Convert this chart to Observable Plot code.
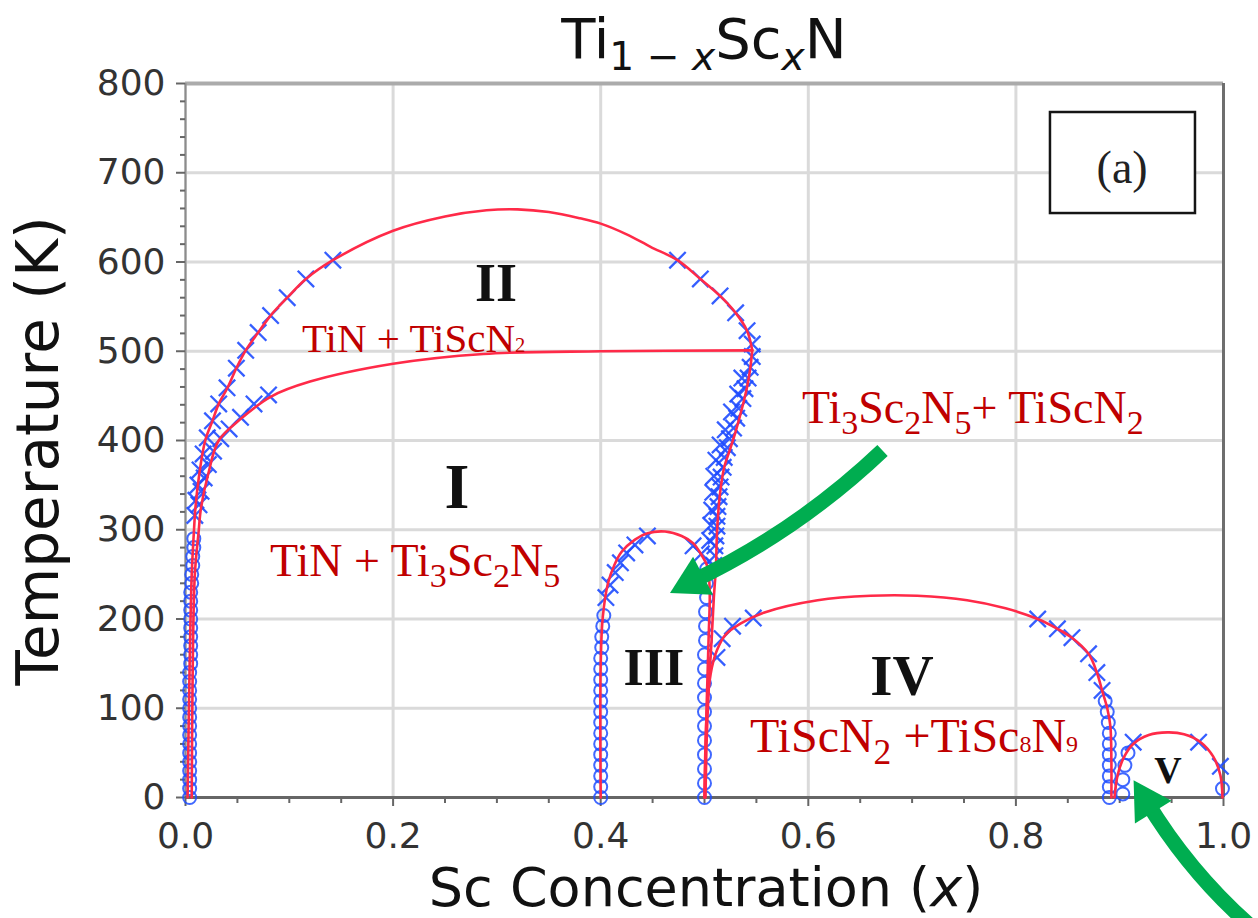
<!DOCTYPE html>
<html>
<head>
<meta charset="utf-8">
<script src="https://cdn.jsdelivr.net/npm/d3@7"></script>
<script src="https://cdn.jsdelivr.net/npm/@observablehq/plot@0.6"></script>
<style>
  html, body { margin: 0; padding: 0; background: #fff; }
  #chart svg { display: block; }
</style>
</head>
<body>
<div id="chart"></div>
<script>
// ---------- axis ticks ----------
const xTicks = [0, 0.2, 0.4, 0.6, 0.8, 1.0];
const xMinor = [0.05, 0.1, 0.15, 0.25, 0.3, 0.35, 0.45, 0.5, 0.55, 0.65, 0.7, 0.75, 0.85, 0.9, 0.95];
const yTicks = [0, 100, 200, 300, 400, 500, 600, 700, 800];
const yMinor = [20, 40, 60, 80, 120, 140, 160, 180, 220, 240, 260, 280, 320, 340, 360, 380,
                420, 440, 460, 480, 520, 540, 560, 580, 620, 640, 660, 680, 720, 740, 760, 780];

// ---------- phase boundaries [x, T] ----------
const boundaryIIouter = [[0.002,0],[0.004,150],[0.006,250],[0.008,296],[0.0096,325],[0.013,360],[0.019,400],
  [0.026,422],[0.032,441],[0.040,458],[0.049,481],[0.058,501],[0.070,521],[0.082,540],[0.098,560],[0.116,581],
  [0.142,602],[0.200,635],[0.250,651],[0.290,658],[0.320,659],[0.350,656],[0.380,649],[0.400,643],[0.425,631],
  [0.448,617],[0.474,602],[0.496,581],[0.515,562],[0.530,543],[0.541,523],[0.546,501]];
const boundaryIright = [[0.546,501],[0.544,480],[0.541,460],[0.537,440],[0.530,410],[0.524,388],[0.519,370],
  [0.516,350],[0.514,330],[0.512,296],[0.511,258],[0.509,224],[0.507,180],[0.504,120],[0.502,60],[0.501,0]];
const boundaryIinner = [[0.006,0],[0.007,150],[0.009,250],[0.0125,296],[0.015,325],[0.022,363],[0.032,400],
  [0.053,424],[0.082,449],[0.120,466],[0.200,486],[0.287,497],[0.400,500],[0.546,501]];
const domeIII = [[0.400,0],[0.400,150],[0.402,202],[0.407,240],[0.413,260],[0.420,275],[0.433,289],[0.445,296],
  [0.462,298],[0.478,293],[0.489,285],[0.497,272],[0.503,258],[0.505,230],[0.504,180],[0.502,100],[0.500,0]];
const domeIV = [[0.500,0],[0.501,60],[0.503,110],[0.507,145],[0.512,165],[0.520,182],[0.535,195],[0.557,207],
  [0.609,221],[0.660,226],[0.705,226],[0.753,221],[0.790,212],[0.821,200],[0.840,189],[0.854,179],[0.870,161],
  [0.878,140],[0.883,120],[0.888,100],[0.891,80],[0.892,40],[0.892,0]];
const domeV = [[0.895,0],[0.898,25],[0.904,45],[0.913,60],[0.928,70],[0.946,73],[0.962,71],[0.978,62],
  [0.990,46],[0.997,25],[0.999,0]];

// ---------- simulation points [x, T] ----------
const crossPoints = [
  [0.142,602],[0.116,581],[0.098,560],[0.082,540],[0.070,521],[0.058,501],[0.049,481],[0.040,459],[0.032,441],
  [0.026,422],[0.021,403],[0.017,385],[0.014,367],[0.012,350],[0.010,333],[0.009,316],
  [0.080,451],[0.066,441],[0.053,426],[0.042,413],[0.034,402],[0.027,388],[0.022,373],[0.018,358],[0.015,343],[0.013,328],
  [0.474,602],[0.496,581],[0.515,562],[0.530,543],[0.541,523],[0.546,508],[0.546,494],
  [0.544,482],[0.542,470],[0.539,458],[0.537,447],[0.533,436],[0.531,425],[0.528,414],[0.524,402],[0.522,392],
  [0.519,381],[0.518,370],[0.516,359],[0.515,348],[0.514,337],[0.513,326],[0.512,315],[0.512,304],[0.511,293],
  [0.510,282],[0.510,271],[0.509,260],
  [0.536,470],[0.532,452],[0.526,432],[0.520,412],[0.515,395],[0.511,378],[0.509,360],[0.508,342],[0.507,322],
  [0.506,305],[0.505,288],
  [0.405,224],[0.409,238],[0.414,252],[0.419,263],[0.425,274],[0.433,283],[0.445,293],[0.489,282],[0.497,273],
  [0.512,157],[0.517,178],[0.527,192],[0.547,201],
  [0.821,200],[0.840,189],[0.854,179],[0.870,161],[0.878,140],[0.883,120],
  [0.913,62],[0.976,62],[0.997,35]
];
const circlePoints = [
  [0.004,0],[0.004,10],[0.004,20],[0.004,30],[0.004,40],[0.004,50],[0.004,60],[0.004,70],[0.004,80],[0.004,90],
  [0.004,100],[0.004,110],[0.004,120],[0.004,130],[0.004,140],[0.005,150],[0.005,160],[0.005,170],[0.005,180],
  [0.005,190],[0.005,200],[0.005,210],[0.005,220],[0.005,230],[0.006,240],[0.006,250],[0.007,260],[0.007,270],
  [0.008,280],[0.008,290],
  [0.400,0],[0.400,12],[0.400,24],[0.400,36],[0.400,48],[0.400,60],[0.400,72],[0.400,84],[0.400,96],[0.400,108],
  [0.400,120],[0.400,132],[0.400,144],[0.400,156],[0.401,168],[0.401,180],[0.402,192],[0.403,204],
  [0.500,0],[0.500,16],[0.500,32],[0.500,48],[0.500,64],[0.500,80],[0.500,96],[0.500,112],[0.500,128],[0.500,144],
  [0.500,160],[0.501,176],[0.501,192],[0.501,208],[0.502,224],[0.502,240],[0.502,256],
  [0.890,0],[0.890,12],[0.890,24],[0.890,36],[0.890,48],[0.890,60],[0.890,72],[0.889,84],[0.888,96],[0.886,108],
  [0.903,4],[0.903,20],[0.905,36],[0.908,50],[0.999,10]
];

// ---------- annotations (data coordinates) ----------
const regionLabels = [
  {text: "II", x: 0.2996, t: 556, size: 54},
  {text: "I", x: 0.262, t: 323.8, size: 64},
  {text: "III", x: 0.4518, t: 125.5, size: 52},
  {text: "IV", x: 0.6908, t: 114.3, size: 57},
  {text: "V", x: 0.947, t: 15.7, size: 38}
];
const phaseLabels = [
  {text: "TiN + TiScN~2", x: 0.1127, t: 499, size: 41},
  {text: "TiN + Ti_3Sc_2N_5", x: 0.0819, t: 247.6, size: 46},
  {text: "Ti_3Sc_2N_5+ TiScN_2", x: 0.5944, t: 419.0, size: 46},
  {text: "TiScN_2 +TiSc~8N~9", x: 0.5443, t: 50.4, size: 48}
];
const panelBox = [{x1: 0.8333, x2: 0.9730, y1: 654.3, y2: 767.5}];
const panelLabel = {text: "(a)", x: 0.9028, t: 688};
const arrowShafts = [
  {x1: 0.6715, y1: 388.8, x2: 0.488, y2: 242},
  {x1: 1.031, y1: -149, x2: 0.926, y2: -4.5}
];
const arrowHeads = [
  {x: 0.488, y: 242, angle: -117.6},
  {x: 0.926, y: -4.5, angle: -31.8}
];

// ---------- styles ----------
const RED = "#ff2a48";
const BLUE = "#1f4dff";
const GREEN = "#00ad50";
const DARKRED = "#c00000";
const X = d => d[0], Y = d => d[1];
const lineOpts = {x: X, y: Y, curve: "catmull-rom", stroke: RED, strokeWidth: 2.6};

const plot = Plot.plot({
  width: 1258,
  height: 918,
  marginLeft: 185,
  marginRight: 35,
  marginTop: 83,
  marginBottom: 121,
  x: {domain: [0, 1]},
  y: {domain: [0, 800]},
  style: {fontFamily: "DejaVu Sans", background: "white", overflow: "hidden"},
  marks: [
    Plot.gridX(xTicks, {stroke: "#dadada", strokeOpacity: 1, strokeWidth: 3}),
    Plot.gridY(yTicks, {stroke: "#dadada", strokeOpacity: 1, strokeWidth: 3}),
    Plot.ruleY([800], {stroke: "#ababab", strokeWidth: 4}),
    Plot.ruleX([1], {stroke: "#6e6e6e", strokeWidth: 3}),
    Plot.ruleX([0], {stroke: "#8c8c8c", strokeWidth: 2}),
    Plot.axisY(yMinor, {tickSize: 5, stroke: "#666", strokeWidth: 2, fill: "none", label: null}),
    Plot.axisY(yTicks, {tickSize: 9, tickPadding: 11, fontSize: 36, fill: "#333", stroke: "#666",
      strokeWidth: 2, label: null}),
    Plot.axisX(xMinor, {tickSize: 6, stroke: "#666", strokeWidth: 2, fill: "none", label: null}),
    Plot.axisX(xTicks, {tickSize: 9, tickPadding: 16, fontSize: 36, fill: "#333", stroke: "#666",
      strokeWidth: 2, tickFormat: d3.format(".1f"), label: null}),
    Plot.ruleY([0], {stroke: "#666", strokeWidth: 3}),
    Plot.rect(panelBox, {x1: "x1", x2: "x2", y1: "y1", y2: "y2", fill: "white", stroke: "#151515", strokeWidth: 2.5}),
    Plot.dot(circlePoints, {x: X, y: Y, r: 6.5, stroke: BLUE, strokeWidth: 2, fill: "none", strokeOpacity: 0.85}),
    Plot.dot(crossPoints, {x: X, y: Y, r: 7.5, symbol: "times", stroke: BLUE, strokeWidth: 2.3, strokeOpacity: 0.9}),
    Plot.line(boundaryIIouter, lineOpts),
    Plot.line(boundaryIright, lineOpts),
    Plot.line(boundaryIinner, lineOpts),
    Plot.line(domeIII, lineOpts),
    Plot.line(domeIV, lineOpts),
    Plot.line(domeV, lineOpts),
    Plot.arrow(arrowShafts, {x1: "x1", y1: "y1", x2: "x2", y2: "y2", bend: 9, headLength: 0,
      stroke: GREEN, strokeWidth: 15, strokeLinecap: "butt"}),
    Plot.dot(arrowHeads, {x: "x", y: "y", symbol: "triangle", r: 16, fill: GREEN, stroke: "none",
      rotate: d => d.angle})
  ]
});
document.getElementById("chart").append(plot);

// ---------- text with subscripts ----------
const sx = plot.scale("x"), sy = plot.scale("y");
const svg = d3.select(plot);

function parseMarkup(s) {
  const out = []; let buf = "";
  for (let i = 0; i < s.length; i++) {
    const c = s[i];
    if ((c === "_" || c === "~") && i + 1 < s.length) {
      if (buf) out.push([buf, "n"]);
      buf = "";
      out.push([s[i + 1], c === "_" ? "sub" : "small"]);
      i++;
    } else buf += c;
  }
  if (buf) out.push([buf, "n"]);
  return out;
}

function rich(x, y, parts, o) {
  const t = svg.append("text")
    .attr("x", x).attr("y", y)
    .attr("text-anchor", o.anchor || "start")
    .attr("font-family", o.family)
    .attr("font-size", o.size)
    .attr("font-weight", o.weight || "normal")
    .attr("fill", o.fill);
  if (o.transform) t.attr("transform", o.transform);
  let cur = 0;
  for (const [s, kind] of parts) {
    let size = o.size, off = 0, style = "normal";
    if (kind === "sub" || kind === "subi") { size = o.size * (o.subScale || 0.72); off = o.size * (o.subShift || 0.24); }
    if (kind === "small") { size = o.size * 0.5; off = 0; }
    if (kind === "ni" || kind === "subi") style = "italic";
    const sp = t.append("tspan").text(s).attr("font-size", size).attr("font-style", style);
    if (off !== cur) { sp.attr("dy", off - cur); cur = off; }
  }
  return t;
}

// region numerals
for (const d of regionLabels) {
  rich(sx.apply(d.x), sy.apply(d.t), [[d.text, "n"]],
    {anchor: "middle", family: "Liberation Serif", size: d.size, weight: "bold", fill: "#111"});
}
// phase labels
for (const d of phaseLabels) {
  rich(sx.apply(d.x), sy.apply(d.t), parseMarkup(d.text),
    {anchor: "start", family: "Liberation Serif", size: d.size, fill: DARKRED, subScale: 0.74, subShift: 0.24});
}
// panel label
rich(sx.apply(panelLabel.x), sy.apply(panelLabel.t), [[panelLabel.text, "n"]],
  {anchor: "middle", family: "Liberation Serif", size: 46, fill: "#222"});

// title and axis labels
const [fx0, fx1] = sx.range, [fy0, fy1] = sy.range;
rich((fx0 + fx1) / 2, fy1 - 25,
  [["Ti", "n"], ["1 − ", "sub"], ["x", "subi"], ["Sc", "n"], ["x", "subi"], ["N", "n"]],
  {anchor: "middle", family: "DejaVu Sans", size: 56, fill: "#111", subScale: 0.7, subShift: 0.22});
rich((fx0 + fx1) / 2 + 2, fy0 + 109,
  [["Sc Concentration (", "n"], ["x", "ni"], [")", "n"]],
  {anchor: "middle", family: "DejaVu Sans", size: 54, fill: "#111"});
rich(0, 0, [["Temperature (K)", "n"]],
  {anchor: "middle", family: "DejaVu Sans", size: 58, fill: "#111",
   transform: `translate(${fx0 - 127},${(fy0 + fy1) / 2 + 11}) rotate(-90)`});
</script>
</body>
</html>
